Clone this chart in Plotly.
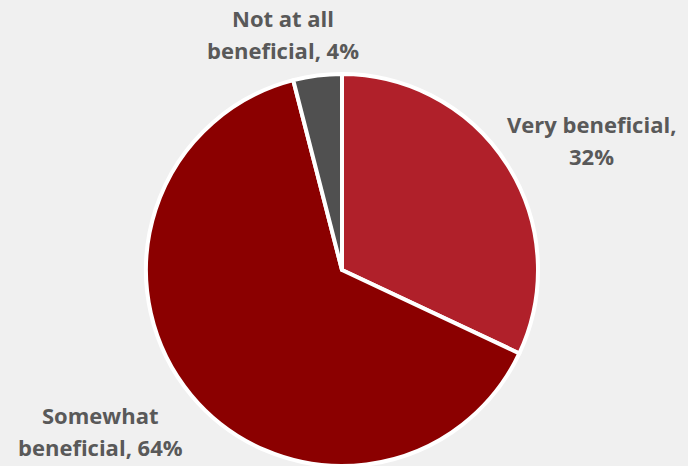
import plotly.graph_objects as go

# Survey responses: perceived benefit
categories = ["Very beneficial", "Somewhat beneficial", "Not at all beneficial"]
values = [32, 64, 4]
label_templates = ["Very beneficial,<br>{}%", "Somewhat<br>beneficial, {}%", "Not at all<br>beneficial, {}%"]
colors = ["#B0202A", "#8B0000", "#505050"]

W, H = 688, 466
cx, cy, r = 342, 270, 196  # pie centre and radius in pixels (from top-left)

fig = go.Figure(
    go.Pie(
        labels=categories,
        values=values,
        sort=False,
        direction="clockwise",
        rotation=0,
        textinfo="none",
        hoverinfo="label+percent",
        marker=dict(colors=colors, line=dict(color="white", width=4)),
        domain=dict(x=[(cx - r) / W, (cx + r) / W], y=[max(0, (H - cy - r) / H), (H - cy + r) / H]),
        showlegend=False,
    )
)

# Label anchor points (pixel centre of first line) for each slice
label_pos = [(591, 124), (100, 415), (283, 18)]
line_gap = 32

for tmpl, v, (px, py) in zip(label_templates, values, label_pos):
    for i, line in enumerate(tmpl.format(v).split("<br>")):
        fig.add_annotation(
            x=px / W, y=1 - (py + i * line_gap) / H,
            xref="paper", yref="paper",
            text=line, showarrow=False,
            xanchor="center", yanchor="middle",
            font=dict(family="Open Sans", size=22, color="#595959", weight="bold"),
        )

fig.update_layout(
    width=W, height=H,
    margin=dict(l=0, r=0, t=0, b=0),
    paper_bgcolor="#F0F0F0",
    plot_bgcolor="#F0F0F0",
)

fig.write_html("out.html")
